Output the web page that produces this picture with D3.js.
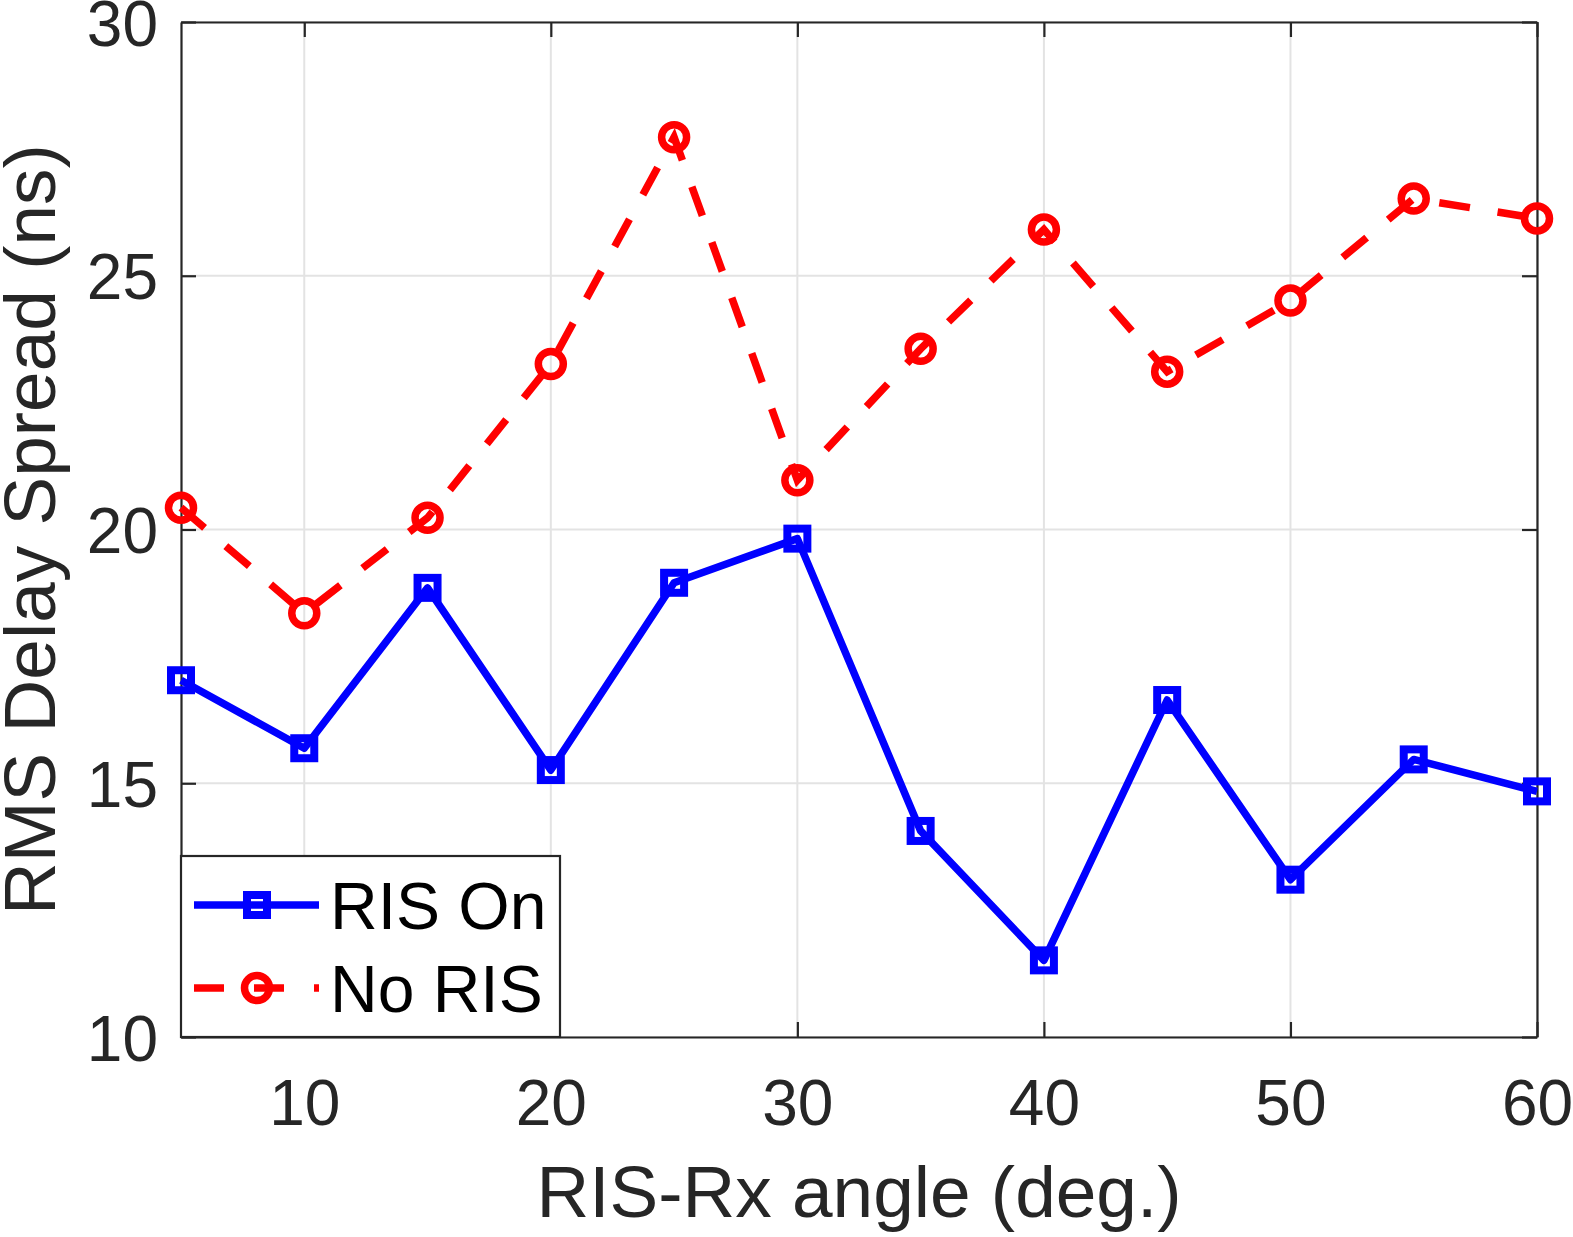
<!DOCTYPE html>
<html lang="en">
<head>
<meta charset="utf-8">
<title>RMS Delay Spread</title>
<script src="https://d3js.org/d3.v7.min.js"></script>
<style type="text/css">
  body { margin: 0; background: #fff; }
  text { font-family: "Liberation Sans", Arial, Helvetica, sans-serif; }
</style>
</head>
<body>
<div id="chart"></div>
<script type="text/javascript">
// data
const angles = [5, 10, 15, 20, 25, 30, 35, 40, 45, 50, 55, 60];
const risOn = [17.03, 15.69, 18.85, 15.26, 18.95, 19.82, 14.06, 11.51, 16.64, 13.10, 15.47, 14.84];
const noRis = [20.43, 18.35, 20.23, 23.26, 27.73, 20.97, 23.56, 25.91, 23.11, 24.51, 26.52, 26.13];
const xTicks = [10, 20, 30, 40, 50, 60];
const yTicks = [10, 15, 20, 25, 30];
const seriesNames = ["RIS On", "No RIS"];

const w = 1573, h = 1237;
const pLeft = 181, pRight = 1537, pTop = 22, pBottom = 1037;
const axisColor = "#262626";

const x = d3.scaleLinear().domain([5, 60]).range([pLeft, pRight]);
const y = d3.scaleLinear().domain([10, 30]).range([pBottom, pTop]);

const svg = d3.select("#chart").append("svg")
  .attr("width", w).attr("height", h);

// grid
svg.append("g").selectAll("line").data(xTicks).enter().append("line")
  .attr("x1", d => x(d)).attr("x2", d => x(d))
  .attr("y1", pTop).attr("y2", pBottom)
  .attr("stroke", "#e3e3e3").attr("stroke-width", 2);
svg.append("g").selectAll("line").data(yTicks).enter().append("line")
  .attr("x1", pLeft).attr("x2", pRight)
  .attr("y1", d => y(d)).attr("y2", d => y(d))
  .attr("stroke", "#e3e3e3").attr("stroke-width", 2);

// axes (ticks pointing inward, box on)
const tickLen = 15;
const xAxis = svg.append("g").attr("transform", "translate(0," + pBottom + ")")
  .call(d3.axisBottom(x).tickValues(xTicks).tickSizeInner(-tickLen).tickSizeOuter(0).tickPadding(43));
const xTop = svg.append("g").attr("transform", "translate(0," + pTop + ")")
  .call(d3.axisTop(x).tickValues(xTicks).tickSizeInner(-tickLen).tickSizeOuter(0).tickFormat(""));
const yAxis = svg.append("g").attr("transform", "translate(" + pLeft + ",0)")
  .call(d3.axisLeft(y).tickValues(yTicks).tickSizeInner(-tickLen).tickSizeOuter(0).tickPadding(23));
const yRight = svg.append("g").attr("transform", "translate(" + pRight + ",0)")
  .call(d3.axisRight(y).tickValues(yTicks).tickSizeInner(-tickLen).tickSizeOuter(0).tickFormat(""));

[xAxis, xTop, yAxis, yRight].forEach(g => {
  g.select(".domain").attr("stroke", axisColor).attr("stroke-width", 2.2);
  g.selectAll(".tick line").attr("stroke", axisColor).attr("stroke-width", 2.2);
  g.selectAll(".tick text").attr("fill", axisColor)
    .style("font-size", "64px").style("font-family", "'Liberation Sans', Arial, sans-serif");
});
xAxis.selectAll(".tick text").attr("dy", "0.71em");
yAxis.selectAll(".tick text").attr("dy", "0.36em");

// series
const line = d3.line().x(d => x(d[0])).y(d => y(d[1]));
const blueData = angles.map((a, i) => [a, risOn[i]]);
const redData = angles.map((a, i) => [a, noRis[i]]);

svg.append("path").datum(redData).attr("d", line)
  .attr("fill", "none").attr("stroke", "#ff0000").attr("stroke-width", 7.5)
  .attr("stroke-dasharray", "31,28");
svg.append("g").selectAll("circle").data(redData).enter().append("circle")
  .attr("cx", d => x(d[0])).attr("cy", d => y(d[1])).attr("r", 12.5)
  .attr("fill", "none").attr("stroke", "#ff0000").attr("stroke-width", 7.5);

svg.append("path").datum(blueData).attr("d", line)
  .attr("fill", "none").attr("stroke", "#0000ff").attr("stroke-width", 7.5)
  .attr("stroke-linejoin", "round");
svg.append("g").selectAll("rect").data(blueData).enter().append("rect")
  .attr("x", d => x(d[0]) - 10).attr("y", d => y(d[1]) - 10)
  .attr("width", 20).attr("height", 20)
  .attr("fill", "none").attr("stroke", "#0000ff").attr("stroke-width", 8);

// legend
const lg = svg.append("g");
lg.append("rect").attr("x", pLeft).attr("y", 856).attr("width", 379).attr("height", pBottom - 856)
  .attr("fill", "#fff").attr("stroke", axisColor).attr("stroke-width", 2.2);
const rows = [905, 988];
// RIS On entry
lg.append("line").attr("x1", 194).attr("x2", 319).attr("y1", rows[0]).attr("y2", rows[0])
  .attr("stroke", "#0000ff").attr("stroke-width", 7.5);
lg.append("rect").attr("x", 257 - 10).attr("y", rows[0] - 10).attr("width", 20).attr("height", 20)
  .attr("fill", "none").attr("stroke", "#0000ff").attr("stroke-width", 8);
// No RIS entry
lg.append("line").attr("x1", 194).attr("x2", 319).attr("y1", rows[1]).attr("y2", rows[1])
  .attr("stroke", "#ff0000").attr("stroke-width", 7.5).attr("stroke-dasharray", "30,30");
lg.append("circle").attr("cx", 257).attr("cy", rows[1]).attr("r", 12.5)
  .attr("fill", "none").attr("stroke", "#ff0000").attr("stroke-width", 7.5);
lg.selectAll("text.lbl").data(seriesNames).enter().append("text")
  .attr("class", "lbl")
  .attr("x", 330).attr("y", (d, i) => rows[i]).attr("dy", "0.36em")
  .style("font-size", "66px").attr("fill", "#000").text(d => d);

// axis labels
svg.append("text").attr("x", (pLeft + pRight) / 2).attr("y", 1217)
  .attr("text-anchor", "middle").style("font-size", "73px").attr("fill", axisColor)
  .text("RIS-Rx angle (deg.)");
svg.append("text").attr("transform", "translate(55," + (pTop + pBottom) / 2 + ") rotate(-90)")
  .attr("text-anchor", "middle").style("font-size", "73px").attr("fill", axisColor)
  .text("RMS Delay Spread (ns)");
</script>
</body>
</html>
